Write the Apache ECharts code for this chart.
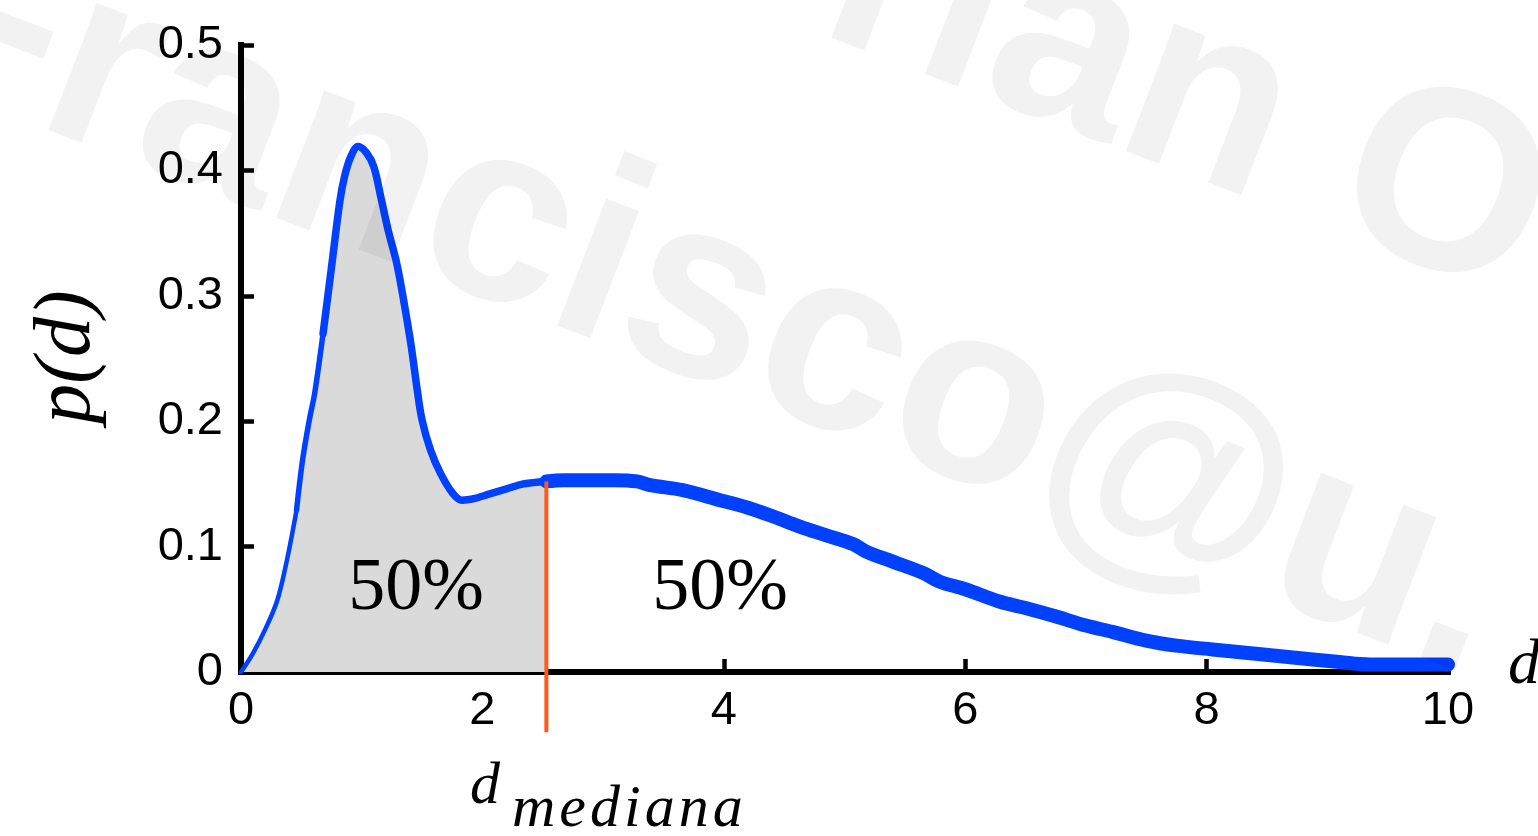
<!DOCTYPE html>
<html>
<head>
<meta charset="utf-8">
<script src="https://cdn.jsdelivr.net/npm/echarts@6/dist/echarts.min.js"></script>
<style>
  html, body { margin: 0; padding: 0; background: #ffffff; }
  #chart { width: 1538px; height: 836px; }
</style>
</head>
<body>
<div id="chart"></div>
<script>
// Distance d and probability density p(d)
const dValues = [
  0.00, 0.10, 0.21, 0.30, 0.38, 0.46, 0.51, 0.57, 0.61,
  0.68, 0.75, 0.82, 0.86, 0.91, 0.97, 1.04, 1.10, 1.16, 1.22, 1.29, 1.35, 1.41, 1.46, 1.50,
  1.57, 1.65, 1.75, 1.83, 1.92, 2.06, 2.20, 2.34, 2.53,
  2.67, 2.90, 3.10, 3.28, 3.39, 3.66, 3.97, 4.20, 4.41, 4.63, 4.85, 5.07, 5.18, 5.40,
  5.65, 5.79, 6.00, 6.29, 6.50, 6.76, 7.00, 7.22, 7.50, 7.75, 8.05, 8.47, 8.88, 9.10,
  9.35, 9.70, 10.00
];
const pValues = [
  0.000, 0.015, 0.036, 0.057, 0.089, 0.129, 0.169, 0.203, 0.222,
  0.270, 0.323, 0.376, 0.396, 0.411, 0.419, 0.414, 0.403, 0.378, 0.352, 0.326, 0.295, 0.260, 0.225, 0.201,
  0.177, 0.159, 0.143, 0.137, 0.138, 0.142, 0.146, 0.150, 0.152,
  0.153, 0.153, 0.153, 0.152, 0.149, 0.145, 0.137, 0.131, 0.124, 0.116, 0.109, 0.102, 0.096, 0.088,
  0.079, 0.072, 0.066, 0.056, 0.051, 0.044, 0.037, 0.032, 0.025, 0.021, 0.018, 0.014, 0.010, 0.008,
  0.006, 0.006, 0.006
];

// Median distance (splits the area in two halves)
const dMedian = 2.53;
const medianLabel = 'd';
const medianSub = 'mediana';
const halfLabels = ['50%', '50%'];
const xTickLabels = ['0', '2', '4', '6', '8', '10'];
const yTickLabels = ['0', '0.1', '0.2', '0.3', '0.4', '0.5'];

const pts = dValues.map((d, i) => [d, pValues[i]]);
const iThin = dValues.indexOf(0.46);
const iRise = dValues.indexOf(0.68);
const iMed = dValues.indexOf(dMedian);
const pMedian = pValues[iMed];

const BLUE = '#0040ff';
const ORANGE = '#ff5a1a';
const SANS = '"Liberation Sans", Arial, Helvetica, sans-serif';
const SERIF = '"Liberation Serif", "Times New Roman", serif';
const SMOOTH = 0.35;

const chart = echarts.init(document.getElementById('chart'), null, { renderer: 'canvas' });

const lineSeries = (data, width, z) => ({
  type: 'line',
  data: data,
  smooth: SMOOTH,
  symbol: 'none',
  silent: true,
  z: z,
  lineStyle: { color: BLUE, width: width, cap: 'round', join: 'round' }
});

const xLabelMap = {};
xTickLabels.forEach(t => { xLabelMap[Number(t)] = t; });
const yLabelMap = {};
yTickLabels.forEach(t => { yLabelMap[Number(t).toFixed(1)] = t; });

const axisLineStyle = () => ({ show: true, onZero: false, lineStyle: { color: '#000', width: 6, cap: 'square' } });
const axisTickStyle = () => ({ show: true, inside: true, length: 13, lineStyle: { color: '#000', width: 4.5 } });

chart.setOption({
  animation: false,
  backgroundColor: '#ffffff',
  grid: { left: 241, right: 90, top: 45, bottom: 164, containLabel: false },
  xAxis: {
    type: 'value',
    min: 0,
    max: 10,
    interval: 2,
    axisLine: axisLineStyle(),
    axisTick: axisTickStyle(),
    splitLine: { show: false },
    axisLabel: {
      color: '#000', fontFamily: SANS, fontSize: 47, margin: 16,
      formatter: v => xLabelMap[v] !== undefined ? xLabelMap[v] : ''
    }
  },
  yAxis: {
    type: 'value',
    min: 0,
    max: 0.5,
    interval: 0.1,
    axisLine: axisLineStyle(),
    axisTick: axisTickStyle(),
    splitLine: { show: false },
    axisLabel: {
      color: '#000', fontFamily: SANS, fontSize: 47, margin: 18,
      formatter: v => yLabelMap[v.toFixed(1)] || ''
    }
  },
  series: [
    // shaded lower half of the distribution
    {
      type: 'line',
      data: pts.slice(0, iMed + 1),
      smooth: SMOOTH,
      symbol: 'none',
      silent: true,
      z: 1,
      lineStyle: { width: 0, opacity: 0 },
      areaStyle: { color: '#dadada', opacity: 1 }
    },
    lineSeries(pts.slice(0, iThin + 1), 4.5, 3),
    lineSeries(pts.slice(iThin, iRise + 1), 5.5, 3),
    lineSeries(pts.slice(iRise, iMed + 1), 7.5, 3),
    lineSeries(pts.slice(iMed), 14, 3),
    // median marker, running below the axis
    {
      type: 'line',
      data: [[dMedian, pMedian], [dMedian, -0.048]],
      clip: false,
      symbol: 'none',
      silent: true,
      z: 6,
      lineStyle: { color: ORANGE, width: 4 }
    }
  ]
});

// Annotations placed through the axes' scales
const px = (d, p) => chart.convertToPixel({ gridIndex: 0 }, [d, p]);
const leftHalf = px(1.45, 0.066);
const rightHalf = px(3.97, 0.066);
const axisEnd = px(10, 0);

const wmFill = 'rgba(0,0,0,0.05)';
const wmFont = 'bold 258px ' + SANS;
const wmRot = -21 * Math.PI / 180;

const txt = (text, x, y, font, align, extra) => Object.assign({
  type: 'text', x: x, y: y, z: 20,
  style: { text: text, font: font, fill: '#000',
           align: align, verticalAlign: 'middle', textAlign: align, textVerticalAlign: 'middle' }
}, extra || {});

chart.setOption({
  graphic: [
    txt(halfLabels[0], leftHalf[0], leftHalf[1], '74px ' + SERIF, 'center'),
    txt(halfLabels[1], rightHalf[0], rightHalf[1], '74px ' + SERIF, 'center'),
    // axis titles
    txt('p(d)', 68, 357, 'italic 80px ' + SERIF, 'center', { rotation: Math.PI / 2 }),
    txt('d', axisEnd[0] + 60, axisEnd[1] - 6, 'italic 64px ' + SERIF, 'left'),
    // d_mediana under the median marker
    txt(medianLabel, 470, 787, 'italic 60px ' + SERIF, 'left'),
    {
      type: 'text', x: 510, y: 810, z: 20,
      style: {
        text: medianSub.split('').map(c => '{s|' + c + '}').join(''),
        align: 'left', verticalAlign: 'middle', textAlign: 'left', textVerticalAlign: 'middle',
        rich: { s: { fontSize: 60, fontStyle: 'italic', fontFamily: SERIF, fill: '#000', color: '#000', padding: [0, 2, 0, 2] } }
      }
    },
    // faint diagonal watermark
    { type: 'text', x: -90, y: 1, rotation: wmRot, z: 100, silent: true,
      style: { text: 'Francisco@u.', font: wmFont, fill: wmFill,
               align: 'left', verticalAlign: 'middle', textAlign: 'left', textVerticalAlign: 'middle' } },
    { type: 'text', x: 840, y: -35, rotation: wmRot, z: 100, silent: true,
      style: { text: 'rian O', font: wmFont, fill: wmFill,
               align: 'left', verticalAlign: 'middle', textAlign: 'left', textVerticalAlign: 'middle' } }
  ]
});
</script>
</body>
</html>
